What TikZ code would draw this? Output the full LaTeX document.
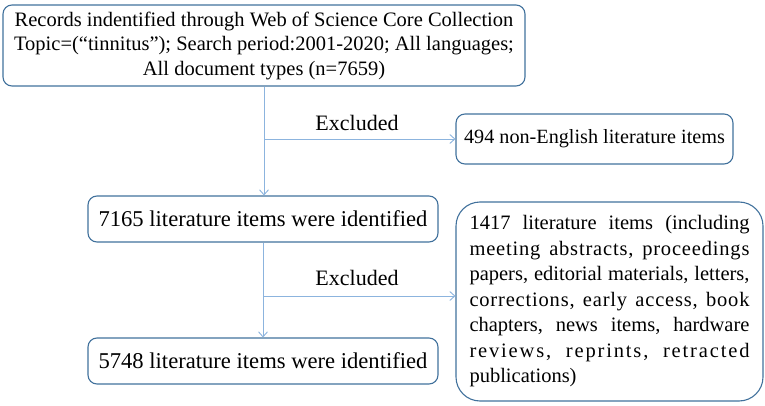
\documentclass[tikz,border=0pt]{standalone}
\usepackage{fontspec}
\setmainfont{Liberation Serif}
\usetikzlibrary{arrows.meta}
\definecolor{boxline}{RGB}{65,113,156}
\definecolor{conn}{RGB}{140,180,222}
\newcommand\jline[1]{\leavevmode\hbox to 280pt{#1}}
\newcommand\jsp[2]{\leavevmode\hbox to 280pt{\addfontfeature{LetterSpace=#1}#2}}
\begin{document}
\begin{tikzpicture}[x=1pt,y=-1pt,
  box/.style={draw=boxline, line width=1.1pt, rounded corners=9pt, inner sep=0pt, align=center},
  conline/.style={draw=conn, line width=0.9pt},
  arr/.style={conline, -{Straight Barb[length=5pt,width=9pt]}},
  lbl/.style={font=\fontsize{22}{24.5}\selectfont, inner sep=0pt}]
\useasboundingbox (0,0) rectangle (765,406);
\node[box, minimum width=522pt, minimum height=81pt, font=\fontsize{20.5}{24.5}\selectfont] (top) at (264,45.5)
  {Records indentified through Web of Science Core Collection\\
   Topic=(“tinnitus”); Search period:2001-2020; All languages;\\
   All document types (n=7659)};
\node[box, minimum width=277pt, minimum height=50pt, font=\fontsize{20.2}{24}\selectfont] (n494) at (594.5,139)
  {494 non-English literature items};
\node[box, minimum width=350pt, minimum height=46pt, font=\fontsize{22.6}{25}\selectfont] (id1) at (263,219)
  {7165 literature items were identified};
\node[box, minimum width=350pt, minimum height=46pt, font=\fontsize{22.6}{25}\selectfont] (id2) at (263,361)
  {5748 literature items were identified};
\node[box, rounded corners=24pt, minimum width=307pt, minimum height=199pt,
  text width=280pt, align=left, font=\fontsize{20.5}{25.5}\selectfont] (big) at (609.5,301.5)
  {\jline{1417\hfill literature\hfill items\hfill (including}\\
   \jsp{4}{meeting\hfill abstracts,\hfill proceedings}\\
   \jline{papers,\hfill editorial\hfill materials,\hfill letters,}\\
   \jsp{4}{corrections,\hfill early\hfill access,\hfill book}\\
   \jline{chapters,\hfill news\hfill items,\hfill hardware}\\
   \jsp{9}{reviews,\hfill reprints,\hfill retracted}\\
   publications)};
\coordinate (b1) at (top.south |- n494.west);
\coordinate (b2) at (263,296);
\coordinate (e2) at (big.west |- b2);
\draw[arr] (top.south) -- (top.south |- id1.north);
\draw[arr] (b1) -- (n494.west);
\draw[arr] (id1.south) -- (id2.north);
\draw[arr] (b2) -- (e2);
\node[lbl] (ex1) at (357,123) {Excluded};
\node[lbl] (ex2) at (357,278) {Excluded};
\end{tikzpicture}
\end{document}
